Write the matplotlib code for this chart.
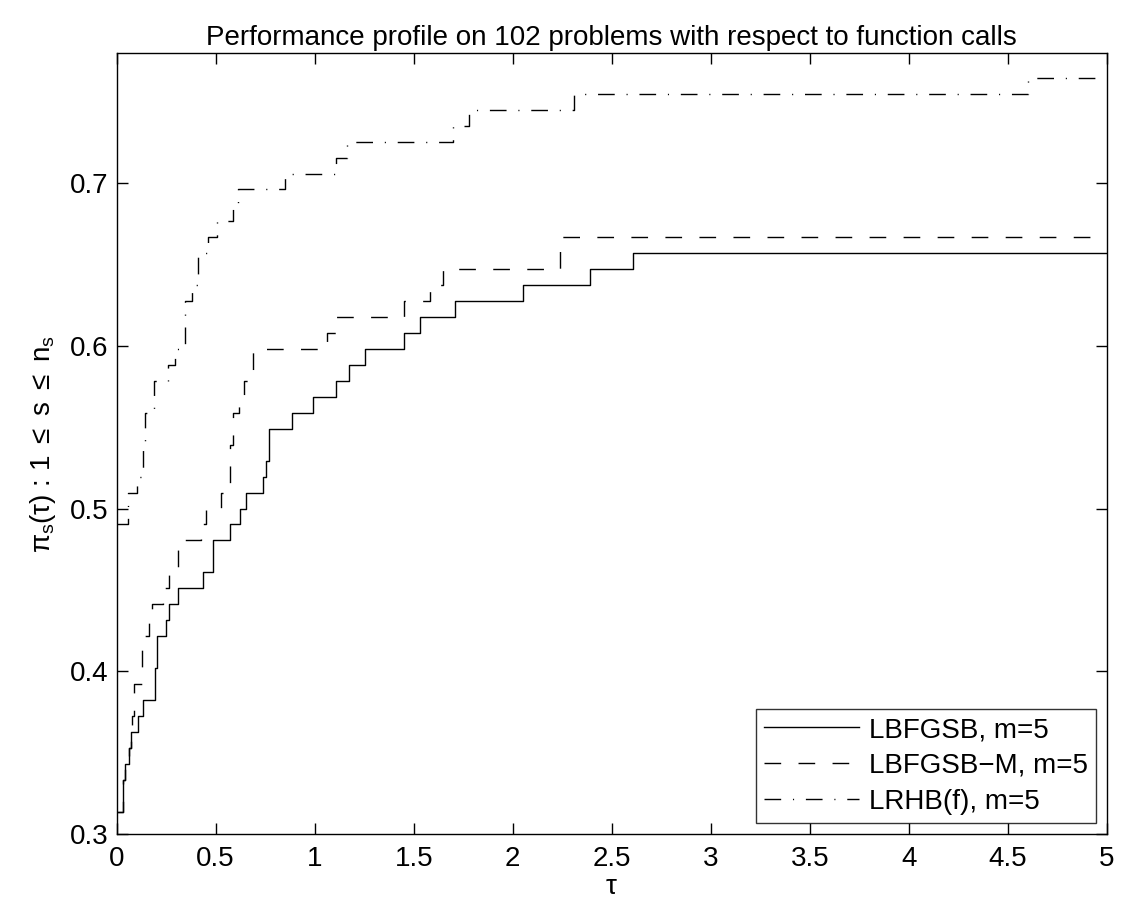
import matplotlib.pyplot as plt
import matplotlib as mpl
import numpy as np

# performance profile data: tau where the step happens, number of problems solved
n_problems = 102

lbfgsb_tau = [0, 0.031, 0.043, 0.065, 0.073, 0.110, 0.132, 0.196, 0.205, 0.250, 0.264,
              0.309, 0.436, 0.486, 0.575, 0.621, 0.655, 0.737, 0.754, 0.771, 0.886,
              0.990, 1.108, 1.175, 1.256, 1.453, 1.534, 1.706, 2.053, 2.389, 2.608, 5.0]
lbfgsb_k = [32, 34, 35, 36, 37, 38, 39, 41, 43, 44, 45,
            46, 47, 49, 50, 51, 52, 53, 54, 56, 57,
            58, 59, 60, 61, 62, 63, 64, 65, 66, 67, 67]

lbfgsbm_tau = [0, 0.031, 0.043, 0.065, 0.073, 0.078, 0.087, 0.129, 0.163, 0.180, 0.233,
               0.264, 0.309, 0.425, 0.452, 0.528, 0.574, 0.587, 0.616, 0.645, 0.689,
               1.06, 1.11, 1.45, 1.58, 1.649, 2.237, 5.0]
lbfgsbm_k = [32, 34, 35, 36, 37, 38, 40, 43, 44, 45, 46,
             47, 49, 50, 51, 52, 55, 57, 58, 59, 61,
             62, 63, 64, 65, 66, 68, 68]

lrhb_tau = [0, 0.057, 0.102, 0.132, 0.146, 0.191, 0.262, 0.297, 0.345, 0.380, 0.412,
            0.460, 0.508, 0.587, 0.613, 0.852, 1.108, 1.164, 1.698, 1.78, 2.31, 4.60, 5.0]
lrhb_k = [50, 52, 53, 55, 57, 59, 60, 61, 64, 65, 67,
          68, 69, 70, 71, 72, 73, 74, 75, 76, 77, 78, 78]

labels = ['LBFGSB, m=5', 'LBFGSB\u2212M, m=5', 'LRHB(f), m=5']

mpl.rcParams['font.family'] = ['Liberation Sans', 'DejaVu Sans']
mpl.rcParams['mathtext.fontset'] = 'custom'
mpl.rcParams['mathtext.rm'] = 'Liberation Sans'
mpl.rcParams['mathtext.it'] = 'Liberation Sans'
mpl.rcParams['axes.linewidth'] = 1.0

fig = plt.figure(figsize=(11.26, 9.05), dpi=100)
ax = fig.add_axes([0.1035, 0.0785, 0.8797, 0.863])

ax.step(lbfgsb_tau, np.array(lbfgsb_k) / n_problems, where='post',
        color='black', lw=1.0, linestyle='-', label=labels[0])
ax.step(lbfgsbm_tau, np.array(lbfgsbm_k) / n_problems, where='post',
        color='black', lw=1.0, linestyle=(0, (12, 12.5)), label=labels[1])
ax.step(lrhb_tau, np.array(lrhb_k) / n_problems, where='post',
        color='black', lw=1.0, linestyle=(0, (12, 8.5, 0.8, 8.5)), label=labels[2])

ax.set_xlim(0, 5)
ax.set_ylim(0.3, 0.78)
ax.set_xticks(np.arange(0, 5.01, 0.5))
ax.set_xticklabels(['0', '0.5', '1', '1.5', '2', '2.5', '3', '3.5', '4', '4.5', '5'])
ax.set_yticks([0.3, 0.4, 0.5, 0.6, 0.7])
ax.tick_params(direction='in', length=8, width=1.0, labelsize=20,
               top=True, right=True)
ax.tick_params(axis='x', pad=9)
ax.tick_params(axis='y', pad=6)

ax.set_title('Performance profile on 102 problems with respect to function calls',
             fontsize=20, pad=6)
ax.set_xlabel(r'$\tau$', fontsize=20, labelpad=1)
ax.set_ylabel(r'$\pi_s(\tau)$ : 1 $\leq$ s $\leq$ n$_s$', fontsize=20, labelpad=8)

leg = ax.legend(loc='lower right', fontsize=20, frameon=True, fancybox=False,
                edgecolor='black', handlelength=3.4, handletextpad=0.35,
                labelspacing=0.35, borderpad=0.3, borderaxespad=0.4)
leg.get_frame().set_linewidth(1.0)

plt.savefig('out.png', dpi=100)
